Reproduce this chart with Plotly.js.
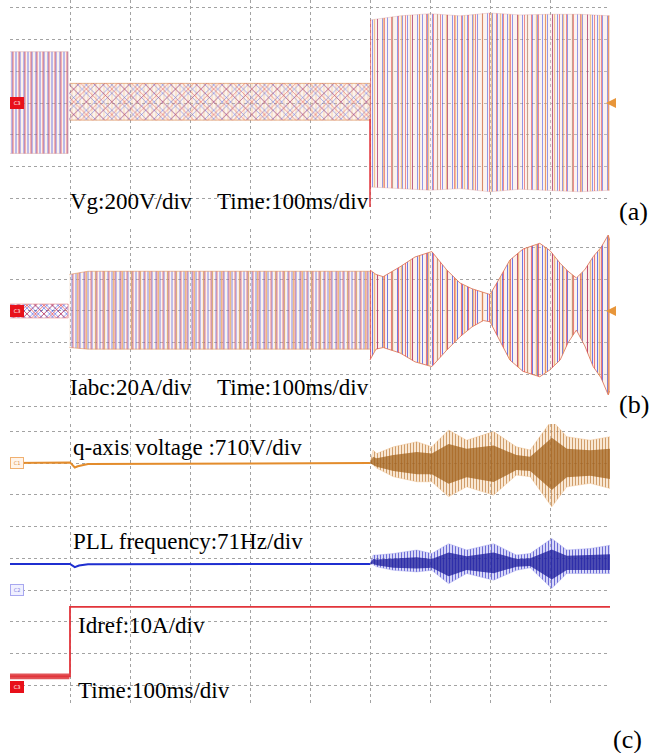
<!DOCTYPE html>
<html>
<head>
<meta charset="utf-8">
<script src="https://cdn.plot.ly/plotly-3.0.1.min.js"></script>
<style>html,body{margin:0;padding:0;background:#fff}#chart{width:649px;height:753px}</style>
</head>
<body>
<div id="chart"></div>
<script>
// ---------- data (time in divisions of 100 ms, amplitude in divisions) ----------
// Panel (a): grid voltage Vg, envelope of the three-phase waveform
const vg1T = [0, 0.97];            const vg1Up = [1.62, 1.62];   const vg1Lo = [-1.59, -1.59];
const vg2T = [0.99, 3.0, 6.0];     const vg2Up = [0.62, 0.62, 0.62]; const vg2Lo = [-0.54, -0.54, -0.54];
const vg3T  = [6.0, 6.5, 7.0, 7.5, 8.0, 8.5, 9.0, 9.5, 10];
const vg3Up = [2.62, 2.75, 2.82, 2.75, 2.84, 2.78, 2.8, 2.8, 2.75];
const vg3Lo = [-2.65, -2.7, -2.75, -2.7, -2.8, -2.72, -2.75, -2.8, -2.75];
const vgSpikeT = [6.0, 6.0];       const vgSpikeV = [-0.5, -3.28];

// Panel (b): inverter currents Iabc, envelope
const ia1T = [0, 0.97];            const ia1Up = [0.22, 0.22];   const ia1Lo = [-0.22, -0.22];
const ia2T = [0.99, 1.3, 6.0];     const ia2Up = [1.15, 1.25, 1.25]; const ia2Lo = [-1.15, -1.2, -1.2];
const ia3T  = [6.0, 6.1, 6.22, 6.5, 6.75, 7.03, 7.28, 7.5, 7.7, 7.89, 8.0, 8.15, 8.33, 8.55, 8.83, 9.0, 9.17, 9.3, 9.44, 9.58, 9.72, 9.85, 9.97, 10];
const ia3Up = [1.29, 1.15, 1.08, 1.39, 1.7, 1.87, 1.29, 0.88, 0.7, 0.6, 0.52, 1.0, 1.6, 1.95, 2.13, 1.9, 1.5, 1.25, 1.04, 1.3, 1.71, 2.0, 2.39, 2.2];
const ia3Lo = [-1.54, -1.2, -1.15, -1.32, -1.6, -1.75, -1.23, -0.81, -0.5, -0.3, -0.34, -0.9, -1.54, -1.9, -2.07, -1.85, -1.54, -1.0, -0.6, -1.1, -1.75, -2.1, -2.64, -2.5];

// Panel (c): q-axis voltage
const qFlatT = [0, 1.0, 1.08, 1.13, 1.3, 6.0];
const qFlatV = [4.0, 4.02, 3.86, 3.9, 3.97, 4.0];
const qT      = [6.0, 6.05, 6.11, 6.39, 6.78, 7.03, 7.31, 7.61, 8.06, 8.44, 8.67, 9.03, 9.28, 9.67, 10];
const qUp     = [4.0, 4.41, 4.3, 4.51, 4.67, 4.51, 5.04, 4.72, 4.99, 4.51, 4.41, 5.35, 4.83, 4.72, 4.83];
const qLo     = [4.0, 3.95, 3.84, 3.57, 3.41, 3.41, 2.94, 3.25, 2.99, 3.62, 3.57, 2.62, 3.25, 3.36, 3.2];
const qCoreUp = [4.0, 4.2, 4.15, 4.25, 4.35, 4.3, 4.6, 4.45, 4.55, 4.25, 4.2, 4.8, 4.45, 4.4, 4.45];
const qCoreLo = [4.0, 3.95, 3.88, 3.75, 3.65, 3.65, 3.35, 3.55, 3.4, 3.78, 3.75, 3.15, 3.55, 3.6, 3.5];

// Panel (c): PLL frequency
const fFlatT = [0, 1.0, 1.08, 1.15, 1.3, 6.0];
const fFlatV = [0.82, 0.82, 0.72, 0.77, 0.81, 0.82];
const fT      = [6.0, 6.05, 6.11, 6.39, 6.78, 7.03, 7.31, 7.61, 8.06, 8.44, 8.67, 9.03, 9.28, 9.67, 10];
const fUp     = [0.82, 1.1, 1.1, 1.15, 1.26, 1.15, 1.46, 1.26, 1.46, 1.1, 1.15, 1.62, 1.26, 1.31, 1.41];
const fLo     = [0.82, 0.8, 0.73, 0.62, 0.57, 0.62, 0.2, 0.52, 0.31, 0.62, 0.7, 0.05, 0.52, 0.52, 0.52];
const fCoreUp = [0.82, 0.98, 0.96, 0.98, 1.03, 0.98, 1.18, 1.06, 1.18, 0.98, 1.0, 1.28, 1.08, 1.1, 1.13];
const fCoreLo = [0.82, 0.83, 0.78, 0.7, 0.68, 0.7, 0.43, 0.63, 0.53, 0.73, 0.76, 0.33, 0.63, 0.63, 0.63];

// Panel (c): Idref
const idNoiseT = [0, 0.5, 0.99];   const idNoiseUp = [-2.63, -2.62, -2.63]; const idNoiseLo = [-2.81, -2.8, -2.81];
const idT = [0, 1.0, 1.0, 10];     const idV = [-2.72, -2.72, -0.53, -0.53];

// labels
const panelTexts = ["Vg:200V/div", "Time:100ms/div", "Iabc:20A/div", "Time:100ms/div",
  "q-axis voltage :710V/div", "PLL frequency:71Hz/div", "Idref:10A/div", "Time:100ms/div"];
const panelLetters = ["(a)", "(b)", "(c)"];
const tagNames = ["C3", "C3", "C1", "C2", "C3"];

// ---------- helpers ----------
const W = 649, H = 753;
const px = p => p / W, py = p => 1 - p / H;
function closed(t, lo, up) {
  return { x: t.concat(t.slice().reverse()), y: up.concat(lo.slice().reverse()) };
}
function band(t, lo, up, xa, ya, pat, lineColor, lw) {
  const c = closed(t, lo, up);
  return { x: c.x, y: c.y, xaxis: xa, yaxis: ya, mode: 'lines', fill: 'toself',
    line: { color: lineColor || 'rgba(0,0,0,0)', width: lw || 0 },
    fillcolor: 'rgba(0,0,0,0)', fillpattern: pat, hoverinfo: 'skip', showlegend: false };
}
function line(t, v, xa, ya, color, w) {
  return { x: t, y: v, xaxis: xa, yaxis: ya, mode: 'lines', line: { color: color, width: w },
    hoverinfo: 'skip', showlegend: false };
}
const BLUE = '#3446e0', RED = '#e2343b', ORANGE = '#eaa354';
const CLEAR = 'rgba(0,0,0,0)';
const pat = (shape, c, s, sol, op, bg) => ({ shape: shape, fgcolor: c, fgopacity: op, bgcolor: bg || CLEAR, size: s, solidity: sol });

const traces = [];
// panel (a)
traces.push(band(vg1T, vg1Lo, vg1Up, 'x', 'y', pat('|', BLUE, 4, 0.22, 0.75, 'rgba(245,215,200,0.35)'), 'rgba(200,120,120,0.5)', 0.6));
traces.push(band(vg1T, vg1Lo, vg1Up, 'x', 'y', pat('|', RED, 6, 0.16, 0.7)));
traces.push(band(vg2T, vg2Lo, vg2Up, 'x', 'y', pat('x', BLUE, 6, 0.16, 0.85, 'rgba(245,215,200,0.3)'), 'rgba(220,140,80,0.8)', 0.8));
traces.push(band(vg2T, vg2Lo, vg2Up, 'x', 'y', pat('x', RED, 9, 0.12, 0.8)));
traces.push(band(vg2T, vg2Lo, vg2Up, 'x', 'y', pat('|', ORANGE, 4, 0.15, 0.6)));
traces.push(band(vg3T, vg3Lo, vg3Up, 'x', 'y', pat('|', BLUE, 5, 0.18, 0.6, 'rgba(245,220,210,0.35)'), 'rgba(210,140,140,0.5)', 0.6));
traces.push(band(vg3T, vg3Lo, vg3Up, 'x', 'y', pat('|', RED, 7, 0.14, 0.55)));
traces.push(band(vg3T, vg3Lo, vg3Up, 'x', 'y', pat('|', ORANGE, 9, 0.14, 0.6)));
traces.push(line(vgSpikeT, vgSpikeV, 'x', 'y', RED, 1.5));
// panel (b)
traces.push(band(ia1T, ia1Lo, ia1Up, 'x2', 'y2', pat('x', BLUE, 4, 0.25, 1), 'rgba(220,60,60,0.6)', 0.6));
traces.push(band(ia1T, ia1Lo, ia1Up, 'x2', 'y2', pat('x', RED, 6, 0.2, 1)));
traces.push(band(ia2T, ia2Lo, ia2Up, 'x2', 'y2', pat('|', BLUE, 4, 0.2, 0.75, 'rgba(245,215,200,0.3)'), 'rgba(220,140,80,0.7)', 0.8));
traces.push(band(ia2T, ia2Lo, ia2Up, 'x2', 'y2', pat('|', RED, 6, 0.15, 0.65)));
traces.push(band(ia2T, ia2Lo, ia2Up, 'x2', 'y2', pat('|', ORANGE, 9, 0.14, 0.7)));
traces.push(band(ia3T, ia3Lo, ia3Up, 'x2', 'y2', pat('|', BLUE, 5, 0.2, 0.7, 'rgba(245,215,200,0.3)'), 'rgba(220,110,80,0.8)', 1));
traces.push(band(ia3T, ia3Lo, ia3Up, 'x2', 'y2', pat('|', RED, 7, 0.16, 0.65)));
traces.push(band(ia3T, ia3Lo, ia3Up, 'x2', 'y2', pat('|', ORANGE, 9, 0.16, 0.7)));
// panel (c)
traces.push(line(qFlatT, qFlatV, 'x3', 'y3', '#e38c2c', 2));
traces.push(band(qT, qLo, qUp, 'x3', 'y3', pat('|', '#b8702a', 3, 0.3, 0.7, 'rgba(242,205,160,0.45)'), 'rgba(235,180,120,0.6)', 0.6));
traces.push(band(qT, qCoreLo, qCoreUp, 'x3', 'y3', pat('|', '#7a3f05', 2, 0.45, 0.85, 'rgba(200,125,40,0.55)')));
traces.push(line(fFlatT, fFlatV, 'x3', 'y3', '#1f2fd0', 2));
traces.push(band(fT, fLo, fUp, 'x3', 'y3', pat('|', '#2a2ac0', 3, 0.3, 0.7, 'rgba(170,170,240,0.45)'), 'rgba(150,150,235,0.6)', 0.6));
traces.push(band(fT, fCoreLo, fCoreUp, 'x3', 'y3', pat('|', '#0a0a80', 2, 0.45, 0.85, 'rgba(40,40,180,0.6)')));
traces.push(band(idNoiseT, idNoiseLo, idNoiseUp, 'x3', 'y3', pat('|', '#d01018', 2, 0.5, 1, 'rgba(230,60,60,0.55)')));
traces.push(line(idT, idV, 'x3', 'y3', RED, 1.8));

// ---------- layout ----------
const gridC = '#a3a3a3';
function xax(anchor) {
  return { domain: [px(10), px(610)], range: [0, 10], dtick: 1, tick0: 0, showgrid: true, gridcolor: gridC,
    griddash: 'dot', gridwidth: 1, zeroline: false, showticklabels: false, ticks: '', showline: false,
    anchor: anchor, fixedrange: true };
}
function yax(dom, rng, anchor) {
  return { domain: dom, range: rng, dtick: 1, tick0: 0, showgrid: true, gridcolor: gridC, griddash: 'dot',
    gridwidth: 1, zeroline: false, showticklabels: false, ticks: '', showline: false, anchor: anchor, fixedrange: true };
}
const serif = 'Liberation Serif, Times New Roman, serif';
const textPos = [[68, 201], [215, 201], [68, 387], [215, 387], [71, 447], [71, 541], [76, 625], [76, 690]];
const letterPos = [[617, 212], [617, 404], [611, 739]];
const annotations = [];
panelTexts.forEach((t, i) => annotations.push({ text: t, xref: 'paper', yref: 'paper', x: px(textPos[i][0]),
  y: py(textPos[i][1]), xanchor: 'left', yanchor: 'middle', showarrow: false,
  font: { family: serif, size: 23, color: '#000' } }));
panelLetters.forEach((t, i) => annotations.push({ text: t, xref: 'paper', yref: 'paper', x: px(letterPos[i][0]),
  y: py(letterPos[i][1]), xanchor: 'left', yanchor: 'middle', showarrow: false,
  font: { family: serif, size: 26, color: '#000' } }));
const tagRefs = [['y', 0, 'red'], ['y2', 0, 'red'], ['y3', 4, 'orange'], ['y3', 0, 'blue'], ['y3', -3.06, 'red']];
const tagStyle = { red: ['#e8101a', '#e8101a', '#fff'], orange: ['#fff4ea', '#f0b070', '#e09040'], blue: ['#f0f0ff', '#a8a8f0', '#8080e0'] };
tagRefs.forEach((r, i) => {
  const s = tagStyle[r[2]];
  annotations.push({ text: tagNames[i], xref: 'paper', yref: r[0], x: px(10), y: r[1], xanchor: 'left', yanchor: 'middle',
    showarrow: false, bgcolor: s[0], bordercolor: s[1], borderwidth: 1, borderpad: 1, width: 10, height: 8,
    font: { family: 'DejaVu Sans', size: 5, color: s[2] } });
  annotations.push({ text: '', xref: 'paper', yref: r[0], x: px(25), y: r[1], ax: px(21), ay: r[1], axref: 'paper', ayref: r[0],
    showarrow: true, arrowhead: 2, arrowsize: 1, arrowwidth: 3.5, arrowcolor: s[1] });
});
// right-side channel markers (orange) in panels a and b
[['y', 0], ['y2', 0]].forEach(r => annotations.push({ text: '', xref: 'paper', yref: r[0], x: px(606), y: r[1],
  ax: px(611), ay: r[1], axref: 'paper', ayref: r[0], showarrow: true, arrowhead: 2, arrowsize: 0.8, arrowwidth: 2.5, arrowcolor: '#e8963a' }));

const layout = {
  width: W, height: H, margin: { l: 0, r: 0, t: 0, b: 0 }, paper_bgcolor: '#fff', plot_bgcolor: '#fff',
  showlegend: false,
  xaxis: xax('y'), xaxis2: xax('y2'), xaxis3: xax('y3'),
  yaxis: yax([py(220), py(0)], [-3.69, 3.25], 'x'),
  yaxis2: yax([py(420), py(229)], [-3.43, 2.58], 'x2'),
  yaxis3: yax([py(703), py(424)], [-3.56, 5.23], 'x3'),
  annotations: annotations
};
Plotly.newPlot('chart', traces, layout, { staticPlot: true, displayModeBar: false });
</script>
</body>
</html>
